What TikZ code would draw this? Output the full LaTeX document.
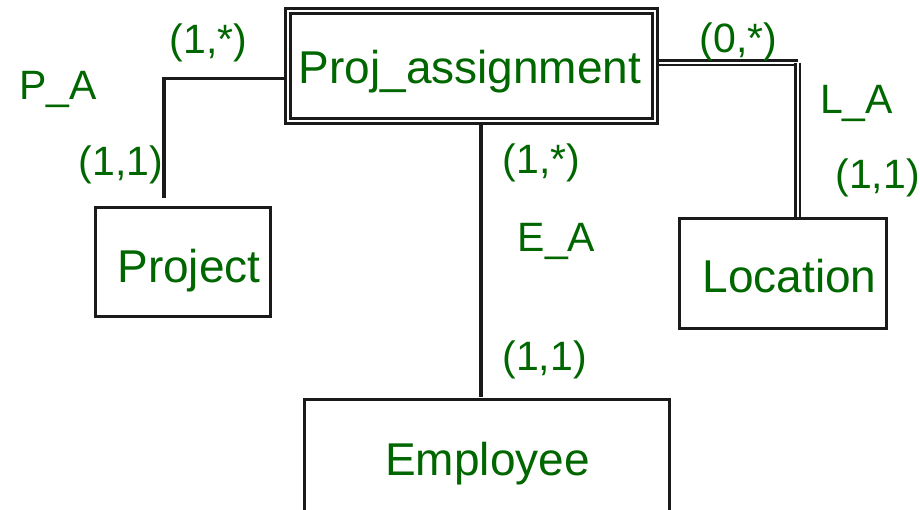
\documentclass[tikz,border=0pt]{standalone}
\usepackage{fontspec}
\setmainfont{Liberation Sans}
\definecolor{erlabel}{RGB}{0,102,0}
\definecolor{erline}{RGB}{26,26,26}
\begin{document}
\begin{tikzpicture}[x=1pt,y=-1pt,
  entity/.style={draw=erline, line width=3.6pt, inner sep=0pt, outer sep=1.8pt},
  weakentity/.style={draw=erline, double=white, double distance=2pt, line width=3pt,
    inner sep=0pt, outer sep=4pt},
  ername/.style={text=erlabel, font=\fontsize{46}{46}\selectfont, inner sep=0pt, anchor=base},
  card/.style={text=erlabel, font=\fontsize{41}{41}\selectfont, inner sep=0pt, anchor=base},
  link/.style={draw=erline, line width=3.6pt},
  doublelink/.style={draw=erline, double=white, double distance=2pt, line width=2.4pt}]
\useasboundingbox (0,0) rectangle (920,509);
\clip (0,0) rectangle (920,509);
\fill[white] (0,0) rectangle (920,509);

% entity boxes
\node[weakentity, minimum width=367pt, minimum height=110pt] (pa) at (471.5,65.5) {};
\node[entity, minimum width=175pt, minimum height=109pt] (project) at (183,262) {};
\node[entity, minimum width=207pt, minimum height=110pt] (location) at (783,273.5) {};
\node[entity, minimum width=365pt, minimum height=171pt] (employee) at (487,485) {};

% entity names
\node[ername] (tpa) at (470,83) {Proj\_assignment};
\node[ername] (tproject) at (189,282) {Project};
\node[ername] (tlocation) at (789.5,292) {Location};
\node[ername] (temployee) at (487.5,475) {Employee};

% connector end points and bends
\coordinate (pay) at (0,78.3);
\coordinate (pend) at (164,198.3);
\coordinate (eax) at (481,0);
\coordinate (eend) at (481,396.5);
\coordinate (lay) at (0,62.5);
\coordinate (lcorner) at (797.5,62.5);

% P_A
\draw[link] (pa.west |- pay) -| (pend);
% E_A
\draw[link] (pa.south -| eax) -- (eend);
% L_A (total participation, double line)
\draw[doublelink] (pa.east |- lay) -- (lcorner);
\draw[doublelink] (lcorner) -- (location.north -| lcorner);

% relationship names and cardinalities
\node[card] (pacard) at (208.5,53) {(1,*)};
\node[card] (paname) at (58,99) {P\_A};
\node[card] (prcard) at (121,175) {(1,1)};
\node[card] (eacard) at (541.5,173) {(1,*)};
\node[card] (eaname) at (556.5,251) {E\_A};
\node[card] (emcard) at (544.5,370) {(1,1)};
\node[card] (lacard) at (738.5,52) {(0,*)};
\node[card] (laname) at (856.5,113) {L\_A};
\node[card] (locard) at (877.5,188) {(1,1)};
\end{tikzpicture}
\end{document}
